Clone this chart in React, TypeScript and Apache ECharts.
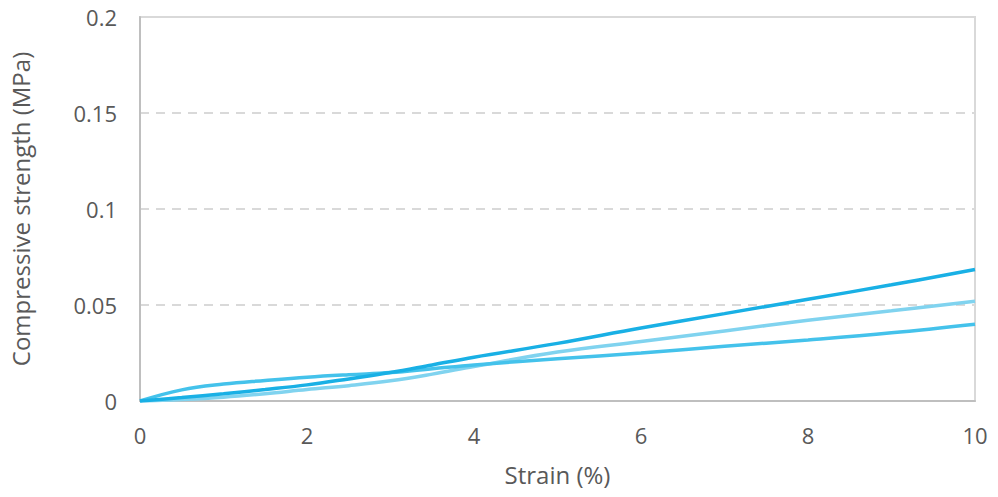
import React, { useEffect, useRef } from "react";
import * as echarts from "echarts";

const strain = [0, 0.5, 1, 1.5, 2, 2.5, 3, 3.5, 4, 5, 6, 7, 8, 9, 10];
const seriesDark = [0, 0.0018, 0.0038, 0.006, 0.0084, 0.0115, 0.0148, 0.0188, 0.0228, 0.030, 0.038, 0.0455, 0.053, 0.0605, 0.0685];
const seriesMid = [0, 0.0058, 0.0088, 0.0107, 0.0124, 0.0137, 0.0148, 0.0168, 0.0188, 0.022, 0.025, 0.0285, 0.0318, 0.0355, 0.040];
const seriesLight = [0, 0.0008, 0.002, 0.0038, 0.006, 0.008, 0.0105, 0.014, 0.018, 0.0255, 0.031, 0.0365, 0.042, 0.047, 0.052];
const yTicks = [0, 0.05, 0.1, 0.15, 0.2];

const pairs = (ys: number[]) => strain.map((x, i) => [x, ys[i]]);

export default function App() {
  const ref = useRef<HTMLDivElement>(null);
  useEffect(() => {
    const chart = echarts.init(ref.current!, null, { renderer: "svg" });
    const font = "'Open Sans', 'Noto Sans', sans-serif";
    chart.setOption({
      animation: false,
      backgroundColor: "#ffffff",
      grid: {
        left: 138, top: 17, right: 23, bottom: 96,
        show: true, borderColor: "#d9d9d9", borderWidth: 2,
      },
      xAxis: {
        type: "value", min: 0, max: 10, interval: 2,
        name: "Strain (%)", nameLocation: "middle", nameGap: 61,
        nameTextStyle: { color: "#595959", fontSize: 24, fontFamily: font },
        axisLine: { show: true, lineStyle: { color: "#bfbfbf", width: 2 } },
        axisTick: { show: false },
        splitLine: { show: false },
        axisLabel: { color: "#595959", fontSize: 22, fontFamily: font, margin: 23 },
      },
      yAxis: {
        type: "value", min: 0, max: 0.2, interval: 0.05,
        name: "Compressive strength (MPa)", nameLocation: "middle", nameGap: 108,
        nameTextStyle: { color: "#595959", fontSize: 24, fontFamily: font },
        axisLine: { show: true, lineStyle: { color: "#bfbfbf", width: 2 } },
        axisTick: { show: false },
        splitLine: { show: true, lineStyle: { color: "#d9d9d9", width: 2, type: [9, 7] } },
        axisLabel: {
          color: "#595959", fontSize: 22, fontFamily: font, margin: 23,
          formatter: (v: number) => {
            const t = yTicks.find((k) => Math.abs(k - v) < 1e-9);
            return String(t !== undefined ? +t.toFixed(2) : v);
          },
        },
      },
      series: [
        { type: "line", data: pairs(seriesLight), smooth: 0.4, showSymbol: false,
          lineStyle: { color: "#80d3ef", width: 3.5 } },
        { type: "line", data: pairs(seriesMid), smooth: 0.4, showSymbol: false,
          lineStyle: { color: "#44c2eb", width: 3.5 } },
        { type: "line", data: pairs(seriesDark), smooth: 0.4, showSymbol: false,
          lineStyle: { color: "#19b0e5", width: 3.5 } },
      ],
    });
    return () => chart.dispose();
  }, []);
  return <div ref={ref} style={{ width: 998, height: 497, position: "absolute", left: 0, top: 0 }} />;
}
